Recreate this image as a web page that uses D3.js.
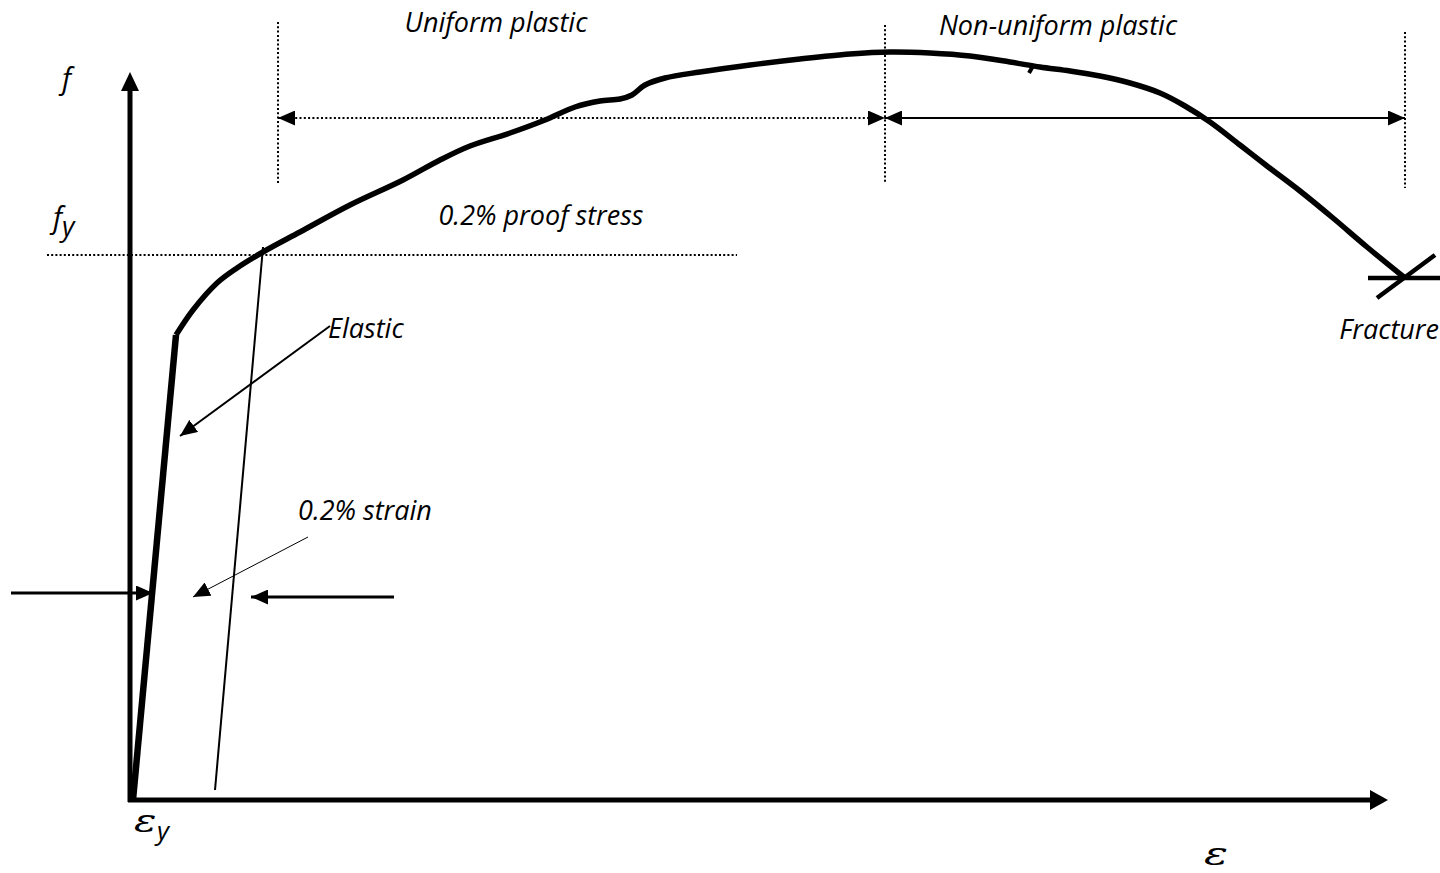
<!DOCTYPE html>
<html>
<head>
<meta charset="utf-8">
<script src="https://cdn.jsdelivr.net/npm/d3@7"></script>
<style>
  html, body { margin: 0; padding: 0; background: #fff; }
  svg { display: block; }
  .lbl { font-family: "Open Sans", sans-serif; font-style: italic; fill: #000; }
  .math { font-family: "DejaVu Serif", serif; font-style: italic; fill: #000; }
</style>
</head>
<body>
<svg id="chart" width="1440" height="873"></svg>
<script>
// ---- data (diagram units: strain offset right of origin, stress above origin) ----
const elasticStrain = [0, 43];
const elasticStress = [0, 465];
const curveStrain = [43, 60, 84, 104, 130, 167, 217, 270, 307, 337, 377, 412, 442, 467, 487, 499, 512, 532, 567, 617, 667, 717, 757, 797, 837, 877, 907, 937, 967, 997, 1027, 1052, 1077, 1107, 1134, 1167, 1200, 1234, 1272];
const curveStress = [465, 490, 517, 532, 548, 568, 595, 620, 640, 654, 667, 680, 693, 699, 701, 705, 715, 722, 728, 735, 741, 746, 748, 747, 744, 738, 733, 729, 724, 717, 707, 694, 678, 655, 634, 609, 582, 553, 522];
const offsetStrain = [82, 130];
const offsetStress = [10, 553];
const proofStress = 545;
const fractureStress = 522;
const fractureBar = [1235, 1307];
const fractureSlashStrain = [1244, 1302], fractureSlashStress = [502, 545];
const regionBounds = [145, 752, 1272];
const regionLabels = ["Uniform plastic", "Non-uniform plastic"];

const svg = d3.select("#chart");
const x = d3.scaleLinear().domain([0, 1255]).range([133, 1388]);
const y = d3.scaleLinear().domain([0, 728]).range([800, 72]);

const defs = svg.append("defs");
function marker(id, w, h, dir) {
  const m = defs.append("marker").attr("id", id)
    .attr("markerUnits", "userSpaceOnUse")
    .attr("markerWidth", w).attr("markerHeight", h)
    .attr("viewBox", `0 0 ${w} ${h}`)
    .attr("refX", w).attr("refY", h / 2)
    .attr("orient", dir);
  m.append("path").attr("d", `M0,0 L${w},${h / 2} L0,${h} Z`).attr("fill", "#000");
}
marker("ah", 17, 15, "auto");
marker("ahs", 17, 15, "auto-start-reverse");

// axes
svg.append("line").attr("x1", x(-3)).attr("y1", y(0) + 2).attr("x2", x(-3)).attr("y2", y(710))
  .attr("stroke", "#000").attr("stroke-width", 5);
svg.append("path").attr("d", `M${x(-3)},${y(728)} L${x(-3) - 9},${y(709)} L${x(-3) + 9},${y(709)} Z`).attr("fill", "#000");
svg.append("line").attr("x1", x(-3) - 2).attr("y1", y(0)).attr("x2", x(1238)).attr("y2", y(0))
  .attr("stroke", "#000").attr("stroke-width", 5);
svg.append("path").attr("d", `M${x(1255)},${y(0)} L${x(1237)},${y(0) - 10} L${x(1237)},${y(0) + 10} Z`).attr("fill", "#000");

// proof stress dotted line
svg.append("line").attr("x1", 47).attr("x2", 737).attr("y1", y(proofStress)).attr("y2", y(proofStress))
  .attr("stroke", "#000").attr("stroke-width", 2).attr("stroke-dasharray", "2,2.2");

// region dotted verticals
const vTops = [22, 25, 32], vBots = [183, 183, 188];
regionBounds.forEach((b, i) => {
  svg.append("line").attr("x1", x(b)).attr("x2", x(b)).attr("y1", vTops[i]).attr("y2", vBots[i])
    .attr("stroke", "#000").attr("stroke-width", 2).attr("stroke-dasharray", "2,2.3");
});
// region arrows
svg.append("line").attr("x1", x(regionBounds[0])).attr("x2", x(regionBounds[1])).attr("y1", 118).attr("y2", 118)
  .attr("stroke", "#000").attr("stroke-width", 2).attr("stroke-dasharray", "2,2.3")
  .attr("marker-start", "url(#ahs)").attr("marker-end", "url(#ah)");
svg.append("line").attr("x1", x(regionBounds[1])).attr("x2", x(regionBounds[2])).attr("y1", 118).attr("y2", 118)
  .attr("stroke", "#000").attr("stroke-width", 2)
  .attr("marker-start", "url(#ahs)").attr("marker-end", "url(#ah)");

// offset line (0.2%)
svg.append("line").attr("x1", x(offsetStrain[0])).attr("y1", y(offsetStress[0]))
  .attr("x2", x(offsetStrain[1])).attr("y2", y(offsetStress[1]))
  .attr("stroke", "#000").attr("stroke-width", 2);

// elastic segment
svg.append("line").attr("x1", x(elasticStrain[0])).attr("y1", y(elasticStress[0]))
  .attr("x2", x(elasticStrain[1])).attr("y2", y(elasticStress[1]))
  .attr("stroke", "#000").attr("stroke-width", 6.5);

// plastic curve
const line = d3.line().x((d, i) => x(curveStrain[i])).y((d, i) => y(curveStress[i])).curve(d3.curveCatmullRom.alpha(0.5));
svg.append("path").attr("d", line(curveStrain)).attr("fill", "none").attr("stroke", "#000")
  .attr("stroke-width", 5.5).attr("stroke-linejoin", "round");
// small notch on curve
svg.append("line").attr("x1", x(900)).attr("y1", y(734)).attr("x2", x(896)).attr("y2", y(727))
  .attr("stroke", "#000").attr("stroke-width", 4);

// fracture mark
svg.append("line").attr("x1", x(fractureBar[0])).attr("x2", x(fractureBar[1]))
  .attr("y1", y(fractureStress)).attr("y2", y(fractureStress)).attr("stroke", "#000").attr("stroke-width", 4.5);
svg.append("line").attr("x1", x(fractureSlashStrain[0])).attr("y1", y(fractureSlashStress[0]))
  .attr("x2", x(fractureSlashStrain[1])).attr("y2", y(fractureSlashStress[1])).attr("stroke", "#000").attr("stroke-width", 4.5);

// annotation arrows
svg.append("line").attr("x1", 330).attr("y1", 326).attr("x2", 180).attr("y2", 436)
  .attr("stroke", "#000").attr("stroke-width", 2).attr("marker-end", "url(#ah)");
svg.append("line").attr("x1", 308).attr("y1", 537).attr("x2", 193).attr("y2", 597)
  .attr("stroke", "#000").attr("stroke-width", 1).attr("marker-end", "url(#ah)");
svg.append("line").attr("x1", 11).attr("y1", 593).attr("x2", 153).attr("y2", 593)
  .attr("stroke", "#000").attr("stroke-width", 3).attr("marker-end", "url(#ah)");
svg.append("line").attr("x1", 394).attr("y1", 597).attr("x2", 251).attr("y2", 597)
  .attr("stroke", "#000").attr("stroke-width", 3).attr("marker-end", "url(#ah)");

// labels
const fs = 27;
svg.append("text").attr("class", "lbl").attr("x", 496).attr("y", 32).attr("text-anchor", "middle").style("font-size", fs + "px").text(regionLabels[0]);
svg.append("text").attr("class", "lbl").attr("x", 1058).attr("y", 35).attr("text-anchor", "middle").style("font-size", fs + "px").text(regionLabels[1]);
svg.append("text").attr("class", "lbl").attr("x", 541).attr("y", 225).attr("text-anchor", "middle").style("font-size", fs + "px").text("0.2% proof stress");
svg.append("text").attr("class", "lbl").attr("x", 328).attr("y", 338).style("font-size", fs + "px").text("Elastic");
svg.append("text").attr("class", "lbl").attr("x", 365).attr("y", 520).attr("text-anchor", "middle").style("font-size", fs + "px").text("0.2% strain");
svg.append("text").attr("class", "lbl").attr("x", 1439).attr("y", 339).attr("text-anchor", "end").style("font-size", fs + "px").text("Fracture");

svg.append("text").attr("class", "lbl").attr("x", 62).attr("y", 89).style("font-size", "29px").text("f");
const fy = svg.append("text").attr("class", "lbl").attr("x", 53).attr("y", 228).style("font-size", "29px");
fy.append("tspan").text("f");
fy.append("tspan").attr("dy", 8).style("font-size", "27px").text("y");

// strain symbols (epsilon widened to match the wide math glyph)
svg.append("text").attr("class", "math").attr("transform", "translate(134,832) scale(1.35,1)")
  .style("font-size", "31px").text("ε");
svg.append("text").attr("class", "lbl").attr("x", 157).attr("y", 840).style("font-size", "26px").text("y");
svg.append("text").attr("class", "math").attr("transform", "translate(1204,865) scale(1.4,1)")
  .style("font-size", "32px").text("ε");
</script>
</body>
</html>
